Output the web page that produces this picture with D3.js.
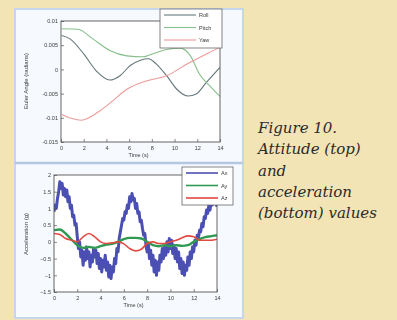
<!DOCTYPE html>
<html>
<head>
<meta charset="utf-8">
<script src="https://cdn.jsdelivr.net/npm/d3@7"></script>
<style>
  html, body { margin: 0; padding: 0; background: #f3e4b6; }
  svg { display: block; }
</style>
</head>
<body>
<svg id="fig" width="397" height="320"></svg>
<script>
// attitude (top plot), seconds / radians
const rollT = [0.06, 0.8, 2.0, 3.1, 4.3, 5.2, 6.1, 7.0, 7.7, 8.4, 9.3, 10.2, 11.2, 11.9, 12.8, 14];
const rollV = [0.007, 0.0063, 0.0032, -0.0003, -0.0022, -0.0013, 0.0008, 0.0019, 0.0022, 0.0011, -0.0013, -0.0041, -0.0055, -0.0051, -0.0027, 0.0004];
const pitchT = [0.06, 1.5, 2.8, 4.3, 5.8, 7.2, 8.4, 9.3, 10.5, 11.4, 12.2, 13.1, 14];
const pitchV = [0.0084, 0.0083, 0.0063, 0.0039, 0.0028, 0.0026, 0.0035, 0.0041, 0.0044, 0.0028, -0.001, -0.0034, -0.0056];
const yawT = [0.06, 0.9, 1.8, 2.6, 3.4, 4.6, 5.8, 7.5, 9.3, 11.1, 12.8, 14];
const yawV = [-0.0093, -0.0101, -0.0105, -0.0098, -0.0086, -0.0064, -0.0041, -0.0024, -0.0013, 0.0011, 0.0032, 0.0046];
const attTicks = [0.01, 0.005, 0, -0.005, -0.01, -0.015];
const attTickLabels = ['0.01', '0.005', '0', '-0.005', '-0.01', '-0.015'];

// acceleration (bottom plot), Ax sampled every 0.1 s
const axV = [0.9, 1.1, 1.0, 1.3, 1.5, 1.8, 1.6, 1.75, 1.4, 1.6,
  1.35, 1.55, 1.2, 1.35, 1.0, 1.1, 0.75, 0.8, 0.5, 0.55,
  0.15, -0.2, 0.0, -0.45, -0.25, -0.7, -0.3, -0.55, -0.15, -0.5,
  -0.3, -0.75, -0.4, -0.6, -0.2, -0.45, -0.25, -0.65, -0.35, -0.8,
  -0.5, -0.9, -0.55, -0.75, -0.4, -0.85, -0.6, -1.05, -0.7, -1.1,
  -0.75, -0.9, -0.5, -0.65, -0.2, -0.3, 0.1, 0.3, 0.5, 0.7,
  0.65, 0.9, 0.85, 1.1, 1.0, 1.35, 1.2, 1.45, 1.25, 1.3,
  1.0, 1.15, 0.85, 0.9, 0.6, 0.65, 0.4, 0.2, 0.25, -0.1,
  -0.3, -0.05, -0.5, -0.25, -0.7, -0.4, -0.9, -0.55, -1.0, -0.6,
  -0.85, -0.4, -0.6, -0.2, -0.5, -0.15, -0.4, 0.0, -0.3, 0.1,
  -0.2, 0.05, -0.35, -0.1, -0.5, -0.2, -0.6, -0.3, -0.8, -0.5,
  -0.95, -0.6, -1.0, -0.7, -0.85, -0.45, -0.7, -0.3, -0.5, -0.15,
  -0.3, 0.05, -0.1, 0.2, 0.1, 0.35, 0.3, 0.55, 0.45, 0.75,
  0.7, 0.95, 0.85, 1.1, 0.95, 1.25, 1.1, 1.3, 1.15, 1.2, 1.05];
const axT = axV.map((_, i) => i / 10);
// Ay, Az sampled every 0.5 s
const slowT = [0, 0.5, 1, 1.5, 2, 2.5, 3, 3.5, 4, 4.5, 5, 5.5, 6, 6.5, 7, 7.5, 8, 8.5, 9, 9.5, 10, 10.5, 11, 11.5, 12, 12.5, 13, 13.5, 14];
const ayV = [0.35, 0.37, 0.25, 0.07, -0.1, -0.18, -0.15, -0.18, -0.13, -0.08, -0.06, 0.0, 0.08, 0.12, 0.12, 0.1, 0.0, -0.1, -0.13, -0.1, -0.13, -0.1, -0.12, -0.1, 0.0, 0.08, 0.14, 0.17, 0.2];
const azV = [0.25, 0.22, 0.1, 0.05, 0.0, 0.15, 0.25, 0.15, 0.0, -0.05, -0.03, 0.0, -0.06, -0.2, -0.27, -0.22, -0.05, 0.0, -0.05, -0.05, 0.0, 0.05, 0.12, 0.18, 0.15, 0.05, 0.05, 0.05, 0.08];
const accTicks = [2, 1.5, 1, 0.5, 0, -0.5, -1, -1.5];
const timeTicks = [0, 2, 4, 6, 8, 10, 12, 14];

const svg = d3.select('#fig');
const defs = svg.append('defs');
defs.append('filter').attr('id', 'soft')
  .append('feGaussianBlur').attr('stdDeviation', 0.45);

// figure panel
svg.append('rect')
  .attr('x', 15).attr('y', 9).attr('width', 228).attr('height', 309)
  .attr('fill', '#f6f9fd').attr('stroke', '#c6d6ec').attr('stroke-width', 2);
svg.append('line')
  .attr('x1', 15).attr('x2', 243).attr('y1', 163).attr('y2', 163)
  .attr('stroke', '#b3c7e2').attr('stroke-width', 2.5);

const chartG = svg.append('g').attr('filter', 'url(#soft)');

const drawPlot = (cfg) => {
  const { box, yDomain, yTicks, yFormat, yLabel, series, legend, clipId } = cfg;
  const x = d3.scaleLinear().domain([0, 14]).range([box.x0, box.x1]);
  const y = d3.scaleLinear().domain(yDomain).range([box.y1, box.y0]);
  const g = chartG.append('g');

  g.append('rect')
    .attr('x', box.x0).attr('y', box.y0)
    .attr('width', box.x1 - box.x0).attr('height', box.y1 - box.y0)
    .attr('fill', '#fff');

  defs.append('clipPath').attr('id', clipId)
    .append('rect')
    .attr('x', box.x0).attr('y', box.y0)
    .attr('width', box.x1 - box.x0).attr('height', box.y1 - box.y0);

  const lines = g.append('g').attr('clip-path', `url(#${clipId})`).attr('fill', 'none');
  series.forEach((s) => {
    const pts = s.t.map((t, i) => [t, s.v[i]]);
    lines.append('path')
      .datum(pts)
      .attr('stroke', s.color)
      .attr('stroke-width', s.width)
      .attr('stroke-linejoin', 'round')
      .attr('d', d3.line().x((d) => x(d[0])).y((d) => y(d[1])).curve(s.curve));
  });

  const xAxis = g.append('g')
    .attr('transform', `translate(0,${box.y1})`)
    .call(d3.axisBottom(x).tickValues(timeTicks).tickSizeInner(-3).tickSizeOuter(0).tickPadding(4));
  const yAxis = g.append('g')
    .attr('transform', `translate(${box.x0},0)`)
    .call(d3.axisLeft(y).tickValues(yTicks).tickFormat(yFormat).tickSizeInner(-3).tickSizeOuter(0).tickPadding(3));
  [xAxis, yAxis].forEach((a) => {
    a.select('.domain').remove();
    a.selectAll('line').attr('stroke', '#555').attr('stroke-width', 0.7);
    a.selectAll('text').attr('fill', '#3a3a3a').attr('font-size', 5.5)
      .attr('font-family', 'Liberation Sans, Arial, sans-serif');
  });

  g.append('rect')
    .attr('x', box.x0).attr('y', box.y0)
    .attr('width', box.x1 - box.x0).attr('height', box.y1 - box.y0)
    .attr('fill', 'none').attr('stroke', '#555').attr('stroke-width', 0.9);

  g.append('text')
    .attr('x', (box.x0 + box.x1) / 2 - 2).attr('y', box.y1 + 15)
    .attr('text-anchor', 'middle').attr('font-size', 5.5).attr('fill', '#3a3a3a')
    .attr('font-family', 'Liberation Sans, Arial, sans-serif')
    .text('Time (s)');
  g.append('text')
    .attr('transform', `translate(28,${yLabel.cy}) rotate(-90)`)
    .attr('text-anchor', 'middle').attr('font-size', 6).attr('fill', '#3a3a3a')
    .attr('font-family', 'Liberation Sans, Arial, sans-serif')
    .text(yLabel.text);

  // legend
  const lg = g.append('g');
  lg.append('rect')
    .attr('x', legend.x).attr('y', legend.y)
    .attr('width', legend.w).attr('height', legend.h)
    .attr('fill', '#fff').attr('stroke', '#666').attr('stroke-width', 0.8);
  series.forEach((s, i) => {
    const ly = legend.y + 6 + i * 12.5;
    lg.append('line')
      .attr('x1', legend.x + 4).attr('x2', legend.x + legend.lineLen)
      .attr('y1', ly).attr('y2', ly)
      .attr('stroke', s.color).attr('stroke-width', Math.min(s.width, 1.6));
    lg.append('text')
      .attr('x', legend.x + legend.lineLen + 3).attr('y', ly + 2)
      .attr('font-size', 5.5).attr('fill', '#3a3a3a')
      .attr('font-family', 'Liberation Sans, Arial, sans-serif')
      .text(s.name);
  });
};

drawPlot({
  clipId: 'clipTop',
  box: { x0: 61, x1: 220, y0: 21, y1: 142 },
  yDomain: [-0.015, 0.01],
  yTicks: attTicks,
  yFormat: (d, i) => attTickLabels[i],
  yLabel: { text: 'Euler Angle (radians)', cy: 81 },
  legend: { x: 160, y: 9, w: 62, h: 39, lineLen: 36 },
  series: [
    { name: 'Roll', t: rollT, v: rollV, color: '#66797c', width: 1.1, curve: d3.curveMonotoneX },
    { name: 'Pitch', t: pitchT, v: pitchV, color: '#86c08c', width: 1.1, curve: d3.curveMonotoneX },
    { name: 'Yaw', t: yawT, v: yawV, color: '#ec9a9a', width: 1.1, curve: d3.curveMonotoneX },
  ],
});

drawPlot({
  clipId: 'clipBottom',
  box: { x0: 54, x1: 217, y0: 175, y1: 292 },
  yDomain: [-1.5, 2],
  yTicks: accTicks,
  yFormat: d3.format(''),
  yLabel: { text: 'Acceleration (g)', cy: 234 },
  legend: { x: 182, y: 167, w: 51, h: 38, lineLen: 36 },
  series: [
    { name: 'Ax', t: axT, v: axV, color: '#4b4fb3', width: 3, curve: d3.curveLinear },
    { name: 'Ay', t: slowT, v: ayV, color: '#2f9a52', width: 2.4, curve: d3.curveMonotoneX },
    { name: 'Az', t: slowT, v: azV, color: '#e2483f', width: 1.6, curve: d3.curveMonotoneX },
  ],
});

// caption
const caption = ['Figure  10.', 'Attitude (top)', 'and', 'acceleration', '(bottom) values'];
svg.append('g')
  .selectAll('text')
  .data(caption)
  .join('text')
  .attr('x', 258)
  .attr('y', (d, i) => 133 + i * 21.3)
  .attr('font-family', 'DejaVu Serif, serif')
  .attr('font-style', 'italic')
  .attr('font-size', 15)
  .attr('fill', '#2b2b2b')
  .text((d) => d);
</script>
</body>
</html>
